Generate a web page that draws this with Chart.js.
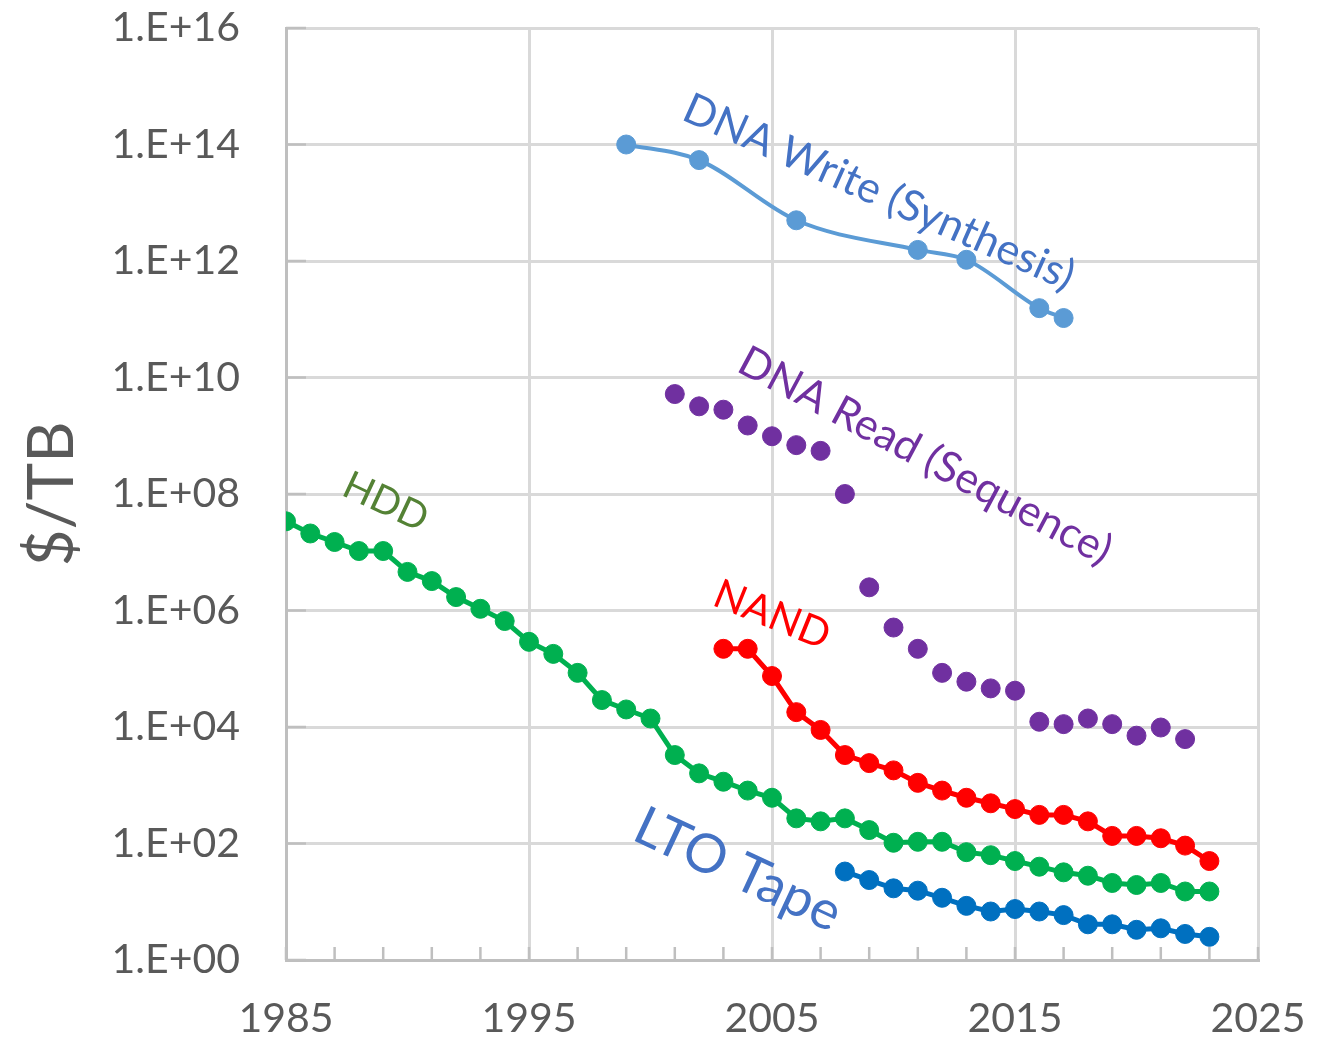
<!DOCTYPE html>
<html>
<head>
<meta charset="utf-8">
<script src="https://cdn.jsdelivr.net/npm/chart.js@4.4.1/dist/chart.umd.min.js"></script>
<style>
  html, body { margin: 0; padding: 0; background: #fff; }
</style>
</head>
<body>
<canvas id="costChart" width="1336" height="1038"></canvas>
<script>
// Cost per TB
const hddYears = [1985, 1986, 1987, 1988, 1989, 1990, 1991, 1992, 1993, 1994, 1995, 1996, 1997, 1998, 1999,
  2000, 2001, 2002, 2003, 2004, 2005, 2006, 2007, 2008, 2009, 2010, 2011, 2012, 2013, 2014, 2015,
  2016, 2017, 2018, 2019, 2020, 2021, 2022, 2023];
const hddCost = [3.4e7, 2.1e7, 1.5e7, 1.05e7, 1.05e7, 4.6e6, 3.2e6, 1.7e6, 1.07e6, 6.6e5, 2.9e5, 1.8e5, 8.5e4, 2.9e4, 2.0e4,
  1.4e4, 3.3e3, 1.6e3, 1.15e3, 810, 610, 270, 240, 270, 170, 103, 107, 107, 71, 63, 50,
  40, 32, 28, 21, 19.4, 21, 15, 15];

const nandYears = [2003, 2004, 2005, 2006, 2007, 2008, 2009, 2010, 2011, 2012, 2013, 2014, 2015,
  2016, 2017, 2018, 2019, 2020, 2021, 2022, 2023];
const nandCost = [2.2e5, 2.2e5, 7.5e4, 1.8e4, 8.9e3, 3.3e3, 2.4e3, 1.8e3, 1.1e3, 810, 610, 490, 390,
  310, 310, 240, 135, 135, 123, 92, 50];

const tapeYears = [2008, 2009, 2010, 2011, 2012, 2013, 2014, 2015, 2016, 2017, 2018, 2019, 2020, 2021, 2022, 2023];
const tapeCost = [33, 23.6, 17, 15.5, 11.7, 8.5, 6.8, 7.5, 6.8, 5.9, 4.1, 4.1, 3.3, 3.5, 2.8, 2.5];

const dnaReadYears = [2001, 2002, 2003, 2004, 2005, 2006, 2007, 2008, 2009, 2010, 2011, 2012, 2013, 2014, 2015,
  2016, 2017, 2018, 2019, 2020, 2021, 2022];
const dnaReadCost = [5.2e9, 3.2e9, 2.8e9, 1.5e9, 9.8e8, 6.9e8, 5.5e8, 1.0e8, 2.5e6, 5.1e5, 2.2e5, 8.5e4, 6.0e4, 4.6e4, 4.2e4,
  1.23e4, 1.12e4, 1.4e4, 1.12e4, 7.1e3, 9.8e3, 6.2e3];

const dnaWriteYears = [1999, 2002, 2006, 2011, 2013, 2016, 2017];
const dnaWriteCost = [1.0e14, 5.4e13, 5.0e12, 1.55e12, 1.05e12, 1.55e11, 1.05e11];

const yTickValues = [1, 1e2, 1e4, 1e6, 1e8, 1e10, 1e12, 1e14, 1e16];

const FONT = 'Lato, "Open Sans", sans-serif';
const GRID = '#D9D9D9';
const AXIS = '#BFBFBF';
const TEXT = '#595959';

function points(xs, ys) {
  return xs.map((x, i) => ({ x: x, y: ys[i] }));
}

function series(label, xs, ys, color, withLine, lineWidth) {
  return {
    label: label,
    data: points(xs, ys),
    borderColor: color,
    backgroundColor: color,
    pointBackgroundColor: color,
    pointBorderColor: color,
    pointRadius: 9.5,
    pointBorderWidth: 1,
    borderWidth: lineWidth,
    showLine: withLine,
    tension: 0
  };
}

const datasets = [
  series('HDD', hddYears, hddCost, '#00B050', true, 5),
  series('NAND', nandYears, nandCost, '#FF0000', true, 5),
  series('LTO Tape', tapeYears, tapeCost, '#0070C0', true, 5),
  series('DNA Read (Sequence)', dnaReadYears, dnaReadCost, '#7030A0', false, 0),
  Object.assign(series('DNA Write (Synthesis)', dnaWriteYears, dnaWriteCost, '#5B9BD5', true, 4),
    { cubicInterpolationMode: 'monotone' })
];

// in-plot series names (placed in data coordinates)
const seriesNotes = [
  { text: 'HDD', x: 1989.1, y: 7.3e7, angle: 25, size: 39, color: '#548235' },
  { text: 'DNA Write (Synthesis)', x: 2009.4, y: 1.5e13, angle: 24, size: 43, color: '#4472C4' },
  { text: 'DNA Read (Sequence)', x: 2011.3, y: 4.5e8, angle: 28, size: 43, color: '#7030A0' },
  { text: 'NAND', x: 2005.0, y: 8.4e5, angle: 22, size: 41, color: '#FF0000' },
  { text: 'LTO Tape', x: 2003.6, y: 35, angle: 25, size: 54, color: '#4472C4' }
];

const notesPlugin = {
  id: 'notes',
  beforeDatasetsDraw(chart) {
    const { ctx, chartArea, scales } = chart;
    ctx.save();
    ctx.strokeStyle = AXIS;
    ctx.lineWidth = 2.5;
    for (let yr = 1985; yr <= 2025; yr += 2) {
      const px = scales.x.getPixelForValue(yr);
      ctx.beginPath();
      ctx.moveTo(px, chartArea.bottom);
      ctx.lineTo(px, chartArea.bottom - 13);
      ctx.stroke();
    }
    yTickValues.forEach(v => {
      const py = scales.y.getPixelForValue(v);
      ctx.beginPath();
      ctx.moveTo(chartArea.left, py);
      ctx.lineTo(chartArea.left + 20, py);
      ctx.stroke();
    });
    ctx.restore();
  },
  afterDatasetsDraw(chart) {
    const { ctx, scales } = chart;
    ctx.save();
    seriesNotes.forEach(n => {
      ctx.save();
      ctx.translate(scales.x.getPixelForValue(n.x), scales.y.getPixelForValue(n.y));
      ctx.rotate(n.angle * Math.PI / 180);
      ctx.font = n.size + 'px ' + FONT;
      ctx.fillStyle = n.color;
      ctx.textAlign = 'center';
      ctx.textBaseline = 'middle';
      ctx.fillText(n.text, 0, 0);
      ctx.restore();
    });
    ctx.restore();
  }
};

new Chart(document.getElementById('costChart'), {
  type: 'scatter',
  data: { datasets: datasets },
  plugins: [notesPlugin],
  options: {
    responsive: false,
    animation: false,
    layout: { padding: { top: 28, right: 78, left: 0, bottom: 0 } },
    plugins: {
      legend: { display: false },
      tooltip: { enabled: false }
    },
    scales: {
      x: {
        type: 'linear',
        min: 1985,
        max: 2025,
        afterFit: s => { s.height = 78; s.paddingLeft = 0; s.paddingRight = 0; },
        grid: { color: GRID, lineWidth: 3, drawTicks: false },
        border: { color: AXIS, width: 3 },
        ticks: {
          stepSize: 10,
          padding: 34,
          color: TEXT,
          font: { family: FONT, size: 41 },
          callback: v => String(v)
        }
      },
      y: {
        type: 'logarithmic',
        min: 1,
        max: 1e16,
        afterFit: s => { s.width = 286; s.paddingTop = 0; s.paddingBottom = 0; },
        afterBuildTicks: s => { s.ticks = yTickValues.map(v => ({ value: v })); },
        grid: { color: GRID, lineWidth: 3, drawTicks: false },
        border: { color: AXIS, width: 3 },
        ticks: {
          padding: 46,
          color: TEXT,
          font: { family: FONT, size: 41 },
          callback: v => '1.E+' + String(Math.round(Math.log10(v))).padStart(2, '0')
        },
        title: {
          display: true,
          text: '$/TB',
          color: TEXT,
          font: { family: FONT, size: 64 },
          padding: { top: 14, bottom: 0 }
        }
      }
    }
  }
});
</script>
</body>
</html>
